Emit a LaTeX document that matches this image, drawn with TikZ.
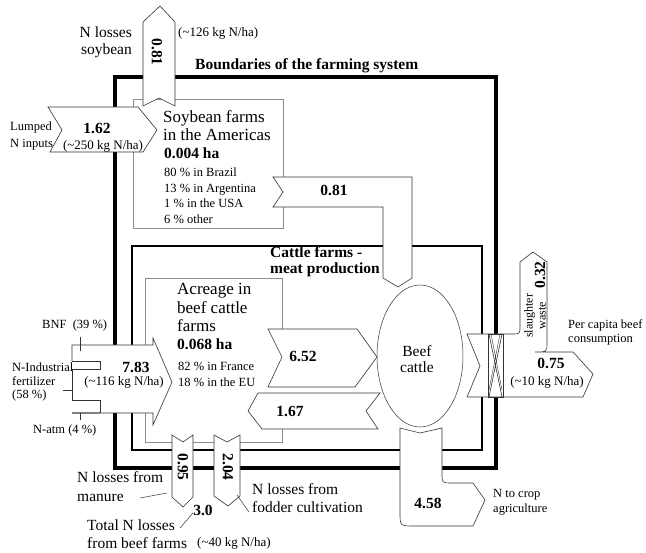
\documentclass[tikz,border=0pt]{standalone}
\usepackage{fontspec}
\setmainfont{Liberation Serif}
\usetikzlibrary{shapes.geometric}
\newcommand\FBig{\fontsize{17}{19}\selectfont}
\newcommand\FNum{\fontsize{15.5}{18}\selectfont\bfseries}
\newcommand\FMed{\fontsize{15.5}{18}\selectfont}
\newcommand\FKg{\fontsize{13}{15}\selectfont}
\newcommand\FSm{\fontsize{12.5}{14}\selectfont}
\begin{document}
\begin{tikzpicture}[x=1pt,y=-1pt,
  flow/.style={draw=black!80, line width=0.6pt, fill=white},
  flowline/.style={draw=black!80, line width=0.6pt},
  graybox/.style={draw=black!45, line width=0.8pt},
  outerb/.style={draw=black, line width=4pt},
  innerb/.style={draw=black, line width=2.5pt},
  lead/.style={draw=black!80, line width=0.5pt},
  t/.style={inner sep=0pt, text=black}]
\useasboundingbox (0,0) rectangle (646,553);
\fill[white] (0,0) rectangle (646,553);

% boundaries
\draw[outerb] (115,77) rectangle (496,468);
\draw[innerb] (132,246) rectangle (482,450);
% soybean box and acreage box
\draw[graybox] (133,99) rectangle (283,228);
\draw[graybox] (282,329) -- (282,278) -- (145,278) -- (145,442) -- (282,442) -- (282,429);

% soybean losses (up)
\path[flow] (143,106) -- (143,22) -- (160,6) -- (175,22) -- (175,106) -- (159,98) -- cycle;
% lumped inputs 1.62
\path[flow] (48,107) -- (138,107) -- (157,130) -- (143,152) -- (50,152) -- (62,130) -- cycle;
% soybean to cattle 0.81
\path[flow] (273,177) -- (412,177) -- (412,278) -- (398,287) -- (383,278) -- (383,207) -- (273,207) -- (283,192) -- cycle;

% 7.83 input arrow
\fill[white] (72,345) -- (153,345) -- (153,338) -- (172,382) -- (153,425) -- (153,413) -- (72,413) -- cycle;
\draw[flowline] (72,361) -- (72,345) -- (153,345) -- (153,338) -- (172,382) -- (153,425) -- (153,413) -- (100,413);
\draw[draw=black!50, line width=1.5pt] (100,413) -- (72,413);
\draw[flowline] (72,361) -- (100,361) -- (100,369) -- (72,369) -- (72,400) -- (100,400) -- (100,413);
\draw[lead] (80,337) -- (80,351);
\draw[lead] (63,390) -- (72,390);
\draw[lead] (80,413) -- (80,420);

% 6.52 and 1.67
\path[flow] (268,329) -- (357,329) -- (377,357) -- (355,387) -- (268,387) -- (282,357) -- cycle;
\path[flow] (380,393) -- (258,393) -- (248,411) -- (262,429) -- (378,429) -- (366,411) -- cycle;

% beef cattle
\node[ellipse, draw=black!80, line width=0.5pt, fill=white, minimum width=86pt, minimum height=142pt, inner sep=0pt] (cattle) at (420,356) {};

% 4.58 to crop agriculture
\path[flow] (400,428) -- (420,433) -- (442,428) -- (442,474) .. controls (442,483) .. (452,483) -- (473,483) -- (485,500) -- (473,526) -- (414,526) .. controls (400,526) .. (400,512) -- cycle;

% losses 0.95 and 2.04
\path[flow] (172,435) -- (183,442) -- (193,435) -- (193,497) -- (183,507) -- (172,497) -- cycle;
\path[flow] (214,435) -- (227,442) -- (240,435) -- (240,496) -- (228,506) -- (214,496) -- cycle;

% slaughter / consumption
\path[flow] (467,334) -- (512,334) .. controls (520,334) .. (520,326) -- (520,262) -- (533,252) -- (547,262) -- (547,342) .. controls (547,352) .. (535,352) -- (573,352) -- (593,374) -- (583,397) -- (467,397) -- (480,366) -- cycle;
\draw[flowline] (488,334) rectangle (503,397);
\draw[flowline] (489,334) -- (502,397) (502,334) -- (489,397);
\draw[flowline, line width=0.4pt] (491,334) -- (502,390) (500,334) -- (489,390);

% ---- texts ----
\node[t, anchor=base west, font=\FNum] (title) at (195,70) {Boundaries of the farming system};
\node[t, anchor=base west, font=\FNum] (cat1) at (270,258) {Cattle farms -};
\node[t, anchor=base west, font=\FNum] (cat2) at (270,274) {meat production};

\node[t, anchor=base east, font=\FMed] (ls1) at (132,38) {N losses};
\node[t, anchor=base east, font=\FMed] (ls2) at (132,55) {soybean};
\node[t, anchor=base west, font=\FKg] (ls3) at (178,37) {(\textasciitilde126 kg N/ha)};
\node[t, font=\FNum, rotate=-90] (v081a) at (157,52) {0.81};

\node[t, anchor=base west, font=\FSm] (lump1) at (10,131) {Lumped};
\node[t, anchor=base west, font=\FSm] (lump2) at (10,148) {N inputs};
\node[t, anchor=base, font=\FNum] (v162) at (97,134) {1.62};
\node[t, anchor=base, font=\FKg] (v162b) at (103,150) {(\textasciitilde250 kg N/ha)};

\node[t, anchor=base west, font=\FBig] (s1) at (163,123) {Soybean farms};
\node[t, anchor=base west, font=\FBig] (s2) at (163,141) {in the Americas};
\node[t, anchor=base west, font=\FNum] (s3) at (164,159) {0.004 ha};
\node[t, anchor=base west, font=\FSm] (s4) at (164,177) {80 \% in Brazil};
\node[t, anchor=base west, font=\FSm] (s5) at (164,193) {13 \% in Argentina};
\node[t, anchor=base west, font=\FSm] (s6) at (164,208) {1 \% in the USA};
\node[t, anchor=base west, font=\FSm] (s7) at (164,224) {6 \% other};

\node[t, anchor=base, font=\FNum] (v081b) at (334,196) {0.81};

\node[t, anchor=base west, font=\FBig] (a1) at (177,295) {Acreage in};
\node[t, anchor=base west, font=\FBig] (a2) at (177,314) {beef cattle};
\node[t, anchor=base west, font=\FBig] (a3) at (177,332) {farms};
\node[t, anchor=base west, font=\FNum] (a4) at (177,350) {0.068 ha};
\node[t, anchor=base west, font=\FSm] (a5) at (178,371) {82 \% in France};
\node[t, anchor=base west, font=\FSm] (a6) at (178,387) {18 \% in the EU};

\node[t, anchor=base west, font=\FSm] (bnf) at (42,329) {BNF\ \ (39 \%)};
\node[t, anchor=base west, font=\FSm] (ni1) at (12,372) {N-Industrial};
\node[t, anchor=base west, font=\FSm] (ni2) at (12,386) {fertilizer};
\node[t, anchor=base west, font=\FSm] (ni3) at (12,399) {(58 \%)};
\node[t, anchor=base west, font=\FSm] (natm) at (33,434) {N-atm (4 \%)};
\node[t, anchor=base, font=\FNum] (v783) at (136,373) {7.83};
\node[t, anchor=base, font=\FKg] (v783b) at (124,386) {(\textasciitilde116 kg N/ha)};

\node[t, anchor=base, font=\FNum] (v652) at (303,362) {6.52};
\node[t, anchor=base, font=\FNum] (v167) at (290,417) {1.67};
\node[t, anchor=base, font=\FMed] (beef1) at (417,357) {Beef};
\node[t, anchor=base, font=\FMed] (beef2) at (417,373) {cattle};

\node[t, font=\FNum, rotate=90] (v032) at (540,275) {0.32};
\node[t, font=\fontsize{12}{13}\selectfont, align=center, rotate=90] (sw) at (535,316) {slaughter\\waste};
\node[t, anchor=base west, font=\FSm] (pc1) at (568,329) {Per capita beef};
\node[t, anchor=base west, font=\FSm] (pc2) at (568,343) {consumption};
\node[t, anchor=base, font=\FNum] (v075) at (551,369) {0.75};
\node[t, anchor=base, font=\FKg] (v075b) at (547,386) {(\textasciitilde10 kg N/ha)};

\node[t, anchor=base, font=\FNum] (v458) at (428,508) {4.58};
\node[t, anchor=base west, font=\FSm] (nc1) at (493,497) {N to crop};
\node[t, anchor=base west, font=\FSm] (nc2) at (493,512) {agriculture};

\node[t, font=\FNum, rotate=-90] (v095) at (183,467) {0.95};
\node[t, font=\FNum, rotate=-90] (v204) at (228,467) {2.04};

\node[t, anchor=base west, font=\FMed] (lm1) at (77,483) {N losses from};
\node[t, anchor=base west, font=\FMed] (lm2) at (77,501) {manure};
\coordinate (lmA) at (140,498);
\coordinate (lmB) at (167,493);
\draw[lead] (lmA) -- (lmB);

\node[t, anchor=base west, font=\FMed] (lf1) at (252,495) {N losses from};
\node[t, anchor=base west, font=\FMed] (lf2) at (252,512) {fodder cultivation};
\coordinate (lfA) at (237,495);
\coordinate (lfB) at (249,512);
\draw[lead] (lfA) -- (lfB);

\node[t, anchor=base, font=\FNum] (v30) at (203,515) {3.0};
\coordinate (ltA) at (180,528);
\coordinate (ltB) at (193,513);
\draw[lead] (ltA) -- (ltB);
\node[t, anchor=base west, font=\FMed] (lt1) at (87,531) {Total N losses};
\node[t, anchor=base west, font=\FMed] (lt2) at (87,548) {from beef farms};
\node[t, anchor=base west, font=\FKg] (lt3) at (197,547) {(\textasciitilde40 kg N/ha)};
\end{tikzpicture}
\end{document}
